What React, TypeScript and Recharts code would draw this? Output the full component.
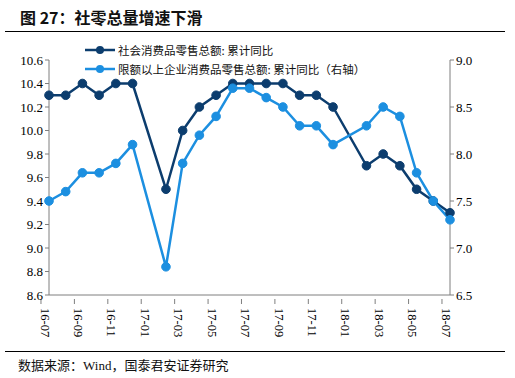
import React from "react";
import { LineChart, Line, XAxis, YAxis } from "recharts";

// 月份（1月数据与2月合并，故为空）
const months = [
  "16-07", "16-08", "16-09", "16-10", "16-11", "16-12", "17-01", "17-02", "17-03",
  "17-04", "17-05", "17-06", "17-07", "17-08", "17-09", "17-10", "17-11", "17-12",
  "18-01", "18-02", "18-03", "18-04", "18-05", "18-06", "18-07",
];

const retailTotal: (number | null)[] = [
  10.3, 10.3, 10.4, 10.3, 10.4, 10.4, null, 9.5, 10.0,
  10.2, 10.3, 10.4, 10.4, 10.4, 10.4, 10.3, 10.3, 10.2,
  null, 9.7, 9.8, 9.7, 9.5, 9.4, 9.3,
];

const retailAboveLimit: (number | null)[] = [
  7.5, 7.6, 7.8, 7.8, 7.9, 8.1, null, 6.8, 7.9,
  8.2, 8.4, 8.7, 8.7, 8.6, 8.5, 8.3, 8.3, 8.1,
  null, 8.3, 8.5, 8.4, 7.8, 7.5, 7.3,
];

const leftTicks = [8.6, 8.8, 9.0, 9.2, 9.4, 9.6, 9.8, 10.0, 10.2, 10.4, 10.6];
const rightTicks = [6.5, 7.0, 7.5, 8.0, 8.5, 9.0];

const seriesNames = ["社会消费品零售总额: 累计同比", "限额以上企业消费品零售总额: 累计同比（右轴）"];

const DARK = "#0c3d6e";
const LIGHT = "#1c8fe0";
const AXIS = "#7f7f7f";
const tickFont = { fontFamily: "'Liberation Serif', serif", fontSize: 13, fill: "#000" };

const data = months.map((m, i) => ({
  month: m,
  total: retailTotal[i],
  above: retailAboveLimit[i],
}));

const BAND = 401 / months.length;

const MonthTick = (props: any) => {
  const { x, y, payload } = props;
  return (
    <g transform={`translate(${x},${y})`}>
      <line x1={-BAND / 2} x2={-BAND / 2} y1={-4} y2={1} stroke={AXIS} />
      <text
        transform="rotate(90)"
        x={5}
        y={4}
        dy="0.35em"
        textAnchor="start"
        style={{ ...tickFont, fontSize: 12.5 }}
        fill="#000"
      >
        {payload.value}
      </text>
    </g>
  );
};

const LegendBox = () => (
  <div
    style={{
      position: "absolute",
      left: 85,
      top: 40,
      fontFamily: "'Noto Sans CJK SC', sans-serif",
      fontSize: 11.5,
      color: "#111",
    }}
  >
    {seriesNames.map((n, i) => (
      <div key={n} style={{ display: "flex", alignItems: "center", height: 19 }}>
        <svg width={30} height={10} style={{ marginRight: 3 }}>
          <line x1={0} x2={30} y1={5} y2={5} stroke={i === 0 ? DARK : LIGHT} strokeWidth={2.5} />
          <circle cx={15} cy={5} r={4} fill={i === 0 ? DARK : LIGHT} />
        </svg>
        <span>{n}</span>
      </div>
    ))}
  </div>
);

export default function App() {
  return (
    <div style={{ position: "absolute", left: 0, top: 0, width: 515, height: 378, background: "#fff" }}>
      <div
        style={{
          position: "absolute",
          left: 20,
          top: 5,
          fontFamily: "'Noto Sans CJK SC', sans-serif",
          fontWeight: 700,
          fontSize: 16,
          color: "#111",
        }}
      >
        图 27：社零总量增速下滑
      </div>
      <div style={{ position: "absolute", left: 5, top: 31, width: 500, height: 1, background: "#000" }} />

      <LineChart
        width={515}
        height={378}
        data={data}
        margin={{ top: 60, right: 0, bottom: 38, left: 0 }}
        style={{ position: "absolute", left: 0, top: 0 }}
      >
        <XAxis
          dataKey="month"
          interval={1}
          height={45}
          axisLine={{ stroke: AXIS }}
          tickLine={false}
          tick={<MonthTick />}
        />
        <YAxis
          yAxisId="left"
          width={49}
          domain={[8.6, 10.6]}
          ticks={leftTicks}
          interval={0}
          tickFormatter={(v: number) => v.toFixed(1)}
          axisLine={{ stroke: AXIS }}
          tickLine={{ stroke: AXIS }}
          tickSize={4}
          tick={tickFont}
        />
        <YAxis
          yAxisId="right"
          orientation="right"
          width={65}
          domain={[6.5, 9.0]}
          ticks={rightTicks}
          interval={0}
          tickFormatter={(v: number) => v.toFixed(1)}
          axisLine={{ stroke: AXIS }}
          tickLine={{ stroke: AXIS }}
          tickSize={4}
          tick={{ ...tickFont, textAnchor: "start" }}
        />
        <Line
          yAxisId="left"
          dataKey="total"
          name={seriesNames[0]}
          stroke={DARK}
          strokeWidth={2.5}
          dot={{ r: 4.3, fill: DARK, stroke: DARK, strokeWidth: 1 }}
          connectNulls
          isAnimationActive={false}
        />
        <Line
          yAxisId="right"
          dataKey="above"
          name={seriesNames[1]}
          stroke={LIGHT}
          strokeWidth={2.5}
          dot={{ r: 4.3, fill: LIGHT, stroke: LIGHT, strokeWidth: 1 }}
          connectNulls
          isAnimationActive={false}
        />
      </LineChart>

      <LegendBox />

      <div style={{ position: "absolute", left: 5, top: 351, width: 500, height: 1, background: "#000" }} />
      <div
        style={{
          position: "absolute",
          left: 18,
          top: 355,
          fontFamily: "'Noto Sans CJK SC', sans-serif",
          fontSize: 13,
          color: "#111",
        }}
      >
        数据来源：<span style={{ fontFamily: "'Liberation Serif', serif" }}>Wind</span>，国泰君安证券研究
      </div>
    </div>
  );
}
